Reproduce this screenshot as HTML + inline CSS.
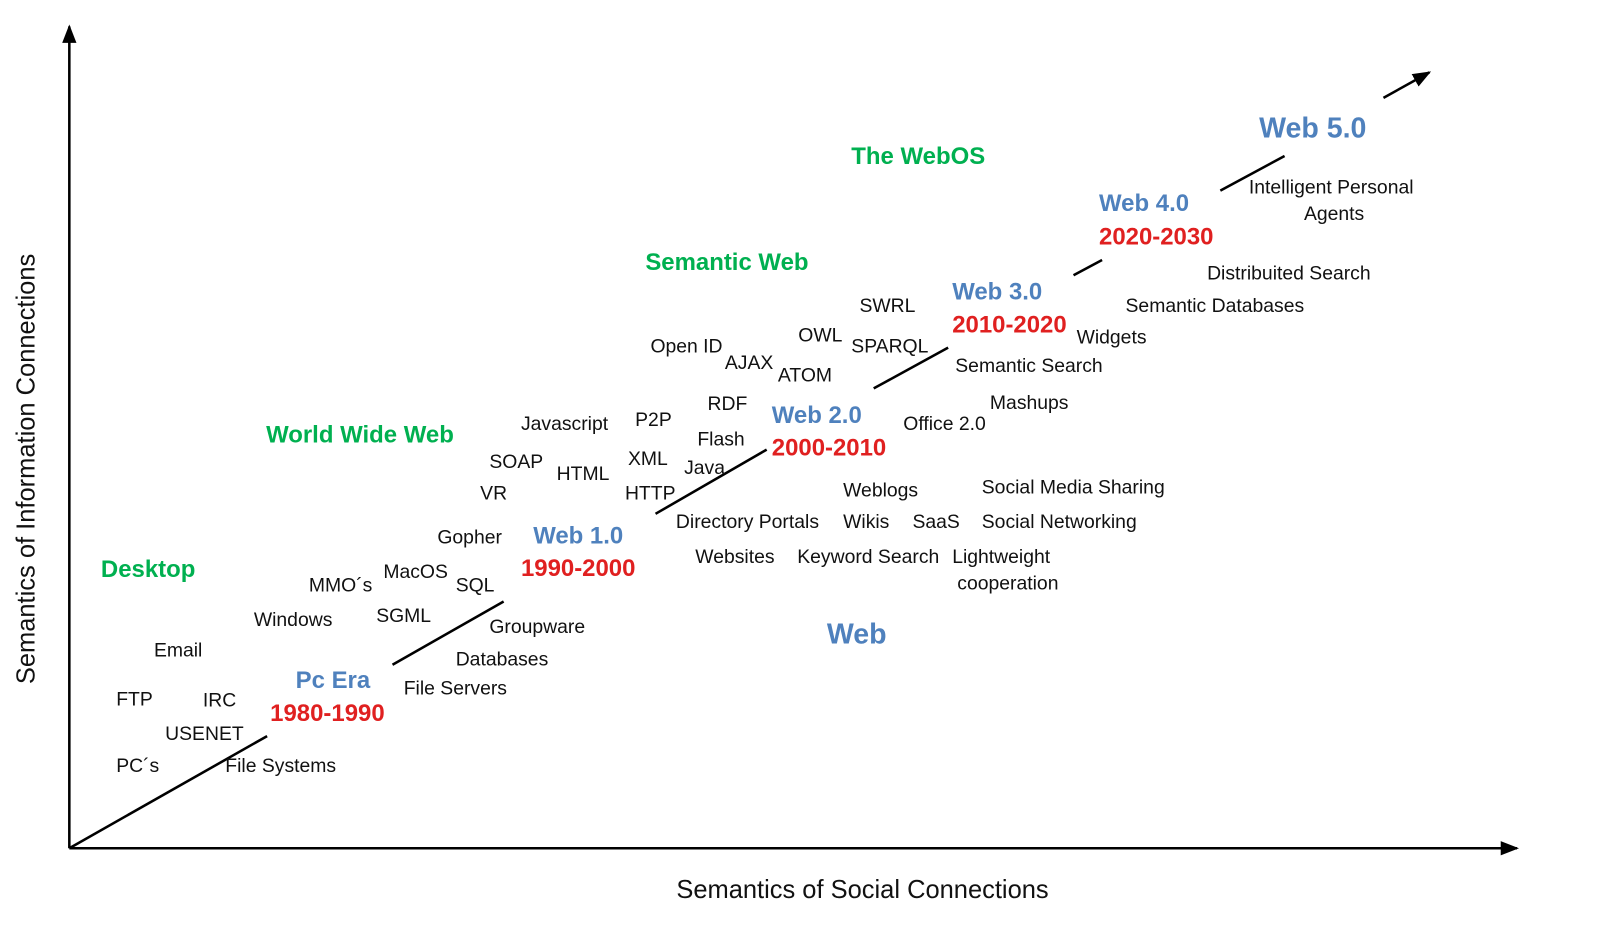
<!DOCTYPE html>
<html><head><meta charset="utf-8"><style>
html,body{margin:0;padding:0;background:#fff;}
svg{display:block;font-family:"Liberation Sans",sans-serif;}
.s{font-size:19px;fill:#111;}
.g{font-size:23.5px;font-weight:bold;fill:#00b050;}
.b{font-size:23.5px;font-weight:bold;fill:#4f81bd;}
.r{font-size:23.5px;font-weight:bold;fill:#e02020;}
</style></head><body>
<svg width="1600" height="925" viewBox="0 0 1600 925">
<defs>
<marker id="ah2" markerWidth="18" markerHeight="14" refX="16" refY="7" orient="auto" markerUnits="userSpaceOnUse"><path d="M0,0 L18,7 L0,14 z" fill="#000"/></marker></defs>
<g transform="scale(1.0195)">
<g stroke="#000" stroke-width="2.5">
<line x1="68" y1="832" x2="68" y2="26" marker-end="url(#ah2)"/>
<line x1="68" y1="832" x2="1488" y2="832" marker-end="url(#ah2)"/>
</g>
<g stroke="#000" stroke-width="2.5">
<line x1="68" y1="832" x2="262" y2="722"/>
<line x1="385" y1="652" x2="494" y2="590"/>
<line x1="643" y1="504" x2="752" y2="441"/>
<line x1="857" y1="381" x2="930" y2="341"/>
<line x1="1053" y1="270" x2="1081" y2="255"/>
<line x1="1197" y1="187" x2="1260" y2="153"/>
<line x1="1357" y1="96" x2="1402" y2="71" marker-end="url(#ah2)"/>
</g>
<text transform="translate(34,460) rotate(-90)" text-anchor="middle" font-size="25" fill="#111">Semantics of Information Connections</text>
<text x="846" y="881" text-anchor="middle" font-size="25" fill="#111">Semantics of Social Connections</text>
<g>
<text class="g" x="99" y="566">Desktop</text>
<text class="g" x="261" y="434">World Wide Web</text>
<text class="g" x="633" y="265">Semantic Web</text>
<text class="g" x="835" y="161">The WebOS</text>
</g>
<g>
<text class="b" x="1235" y="135" style="font-size:28px">Web 5.0</text>
<text class="b" x="1078" y="207">Web 4.0</text><text class="r" x="1078" y="240">2020-2030</text>
<text class="b" x="934" y="294">Web 3.0</text><text class="r" x="934" y="326">2010-2020</text>
<text class="b" x="757" y="415">Web 2.0</text><text class="r" x="757" y="447">2000-2010</text>
<text class="b" x="523" y="533">Web 1.0</text><text class="r" x="511" y="565">1990-2000</text>
<text class="b" x="290" y="675">Pc Era</text><text class="r" x="265" y="707">1980-1990</text>
<text class="b" x="811" y="631" style="font-size:28px">Web</text>
</g>
<g>
<text class="s" x="1225" y="190">Intelligent Personal</text>
<text class="s" x="1279" y="216">Agents</text>
<text class="s" x="1184" y="274">Distribuited Search</text>
<text class="s" x="1104" y="306">Semantic Databases</text>
<text class="s" x="1056" y="337">Widgets</text>
<text class="s" x="937" y="365">Semantic Search</text>
<text class="s" x="971" y="401">Mashups</text>
<text class="s" x="886" y="422">Office 2.0</text>
<text class="s" x="843" y="306">SWRL</text>
<text class="s" x="783" y="335">OWL</text>
<text class="s" x="835" y="346">SPARQL</text>
<text class="s" x="638" y="346">Open ID</text>
<text class="s" x="711" y="362">AJAX</text>
<text class="s" x="763" y="374">ATOM</text>
<text class="s" x="694" y="402">RDF</text>
<text class="s" x="623" y="418">P2P</text>
<text class="s" x="511" y="422">Javascript</text>
<text class="s" x="684" y="437">Flash</text>
<text class="s" x="616" y="456">XML</text>
<text class="s" x="671" y="465">Java</text>
<text class="s" x="480" y="459">SOAP</text>
<text class="s" x="546" y="471">HTML</text>
<text class="s" x="471" y="490">VR</text>
<text class="s" x="613" y="490">HTTP</text>
<text class="s" x="827" y="487">Weblogs</text>
<text class="s" x="963" y="484">Social Media Sharing</text>
<text class="s" x="663" y="518">Directory Portals</text>
<text class="s" x="827" y="518">Wikis</text>
<text class="s" x="895" y="518">SaaS</text>
<text class="s" x="963" y="518">Social Networking</text>
<text class="s" x="682" y="552">Websites</text>
<text class="s" x="782" y="552">Keyword Search</text>
<text class="s" x="934" y="552">Lightweight</text>
<text class="s" x="939" y="578">cooperation</text>
<text class="s" x="429" y="533">Gopher</text>
<text class="s" x="376" y="567">MacOS</text>
<text class="s" x="303" y="580">MMO´s</text>
<text class="s" x="447" y="580">SQL</text>
<text class="s" x="249" y="614">Windows</text>
<text class="s" x="369" y="610">SGML</text>
<text class="s" x="480" y="621">Groupware</text>
<text class="s" x="151" y="644">Email</text>
<text class="s" x="447" y="653">Databases</text>
<text class="s" x="396" y="681">File Servers</text>
<text class="s" x="114" y="692">FTP</text>
<text class="s" x="199" y="693">IRC</text>
<text class="s" x="162" y="726">USENET</text>
<text class="s" x="114" y="757">PC´s</text>
<text class="s" x="221" y="757">File Systems</text>
</g>
</g>
</svg>
</body></html>
